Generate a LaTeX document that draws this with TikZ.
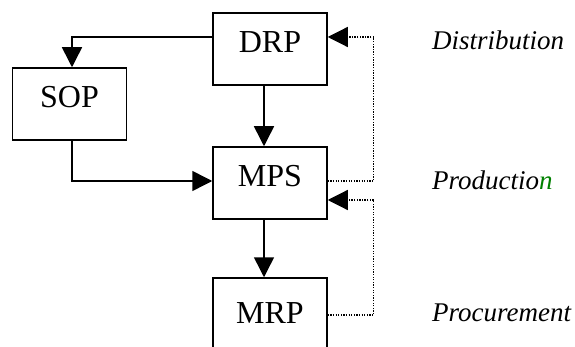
\documentclass[tikz,border=0pt]{standalone}
\usepackage{fontspec}
\setmainfont{Liberation Serif}
\usetikzlibrary{arrows.meta,positioning}
\definecolor{prodgreen}{RGB}{0,128,0}

\begin{document}
\begin{tikzpicture}[x=1pt,y=-1pt,>={Triangle[length=20pt,width=20pt]},
      node distance=134pt,
      blk/.style={draw,line width=1.5pt,minimum width=114pt,minimum height=72pt,
        inner sep=0pt,text height=21pt,text depth=13pt,
        font=\fontsize{32}{38}\selectfont},
      lvl/.style={anchor=west,inner sep=0pt,font=\fontsize{27}{32}\selectfont\itshape},
      flow/.style={->,line width=1.5pt},
      fb/.style={->,line width=1.2pt,dash pattern=on 1.3pt off 1.3pt}]

    \useasboundingbox (0,0) rectangle (575,347);
    \clip (0,0) rectangle (575,347);

    \node[blk] (DRP) at (270,49) {DRP};
    \node[blk] (SOP) at (69.5,104) {SOP};
    \node[blk] (MPS) [below of=DRP] {MPS};
    \node[blk,minimum height=82pt] (MRP) [below of=MPS,yshift=-2pt] {MRP};

    \node[lvl] (dist) at (432,40) {Distribution};
    \node[lvl] (prod) at (432,180) {Productio\textcolor{prodgreen}{n}};
    \node[lvl] (proc) at (432,313) {Procurement};

    \draw[flow] ([yshift=12pt]DRP.west) -| ([xshift=2.5pt]SOP.north);
    \draw[flow] ([xshift=2.5pt]SOP.south) |- ([yshift=2pt]MPS.west);
    \draw[flow] ([xshift=-6pt]DRP.south) -- ([xshift=-6pt]MPS.north);
    \draw[flow] ([xshift=-6pt]MPS.south) -- ([xshift=-6pt]MRP.north);

    \draw[fb] ([yshift=2pt]MPS.east) -- ++(46,0) |- ([yshift=12pt]DRP.east);
    \draw[fb] ([yshift=4pt]MRP.east) -- ++(46,0) |- ([yshift=-17pt]MPS.east);

\end{tikzpicture}
\end{document}
